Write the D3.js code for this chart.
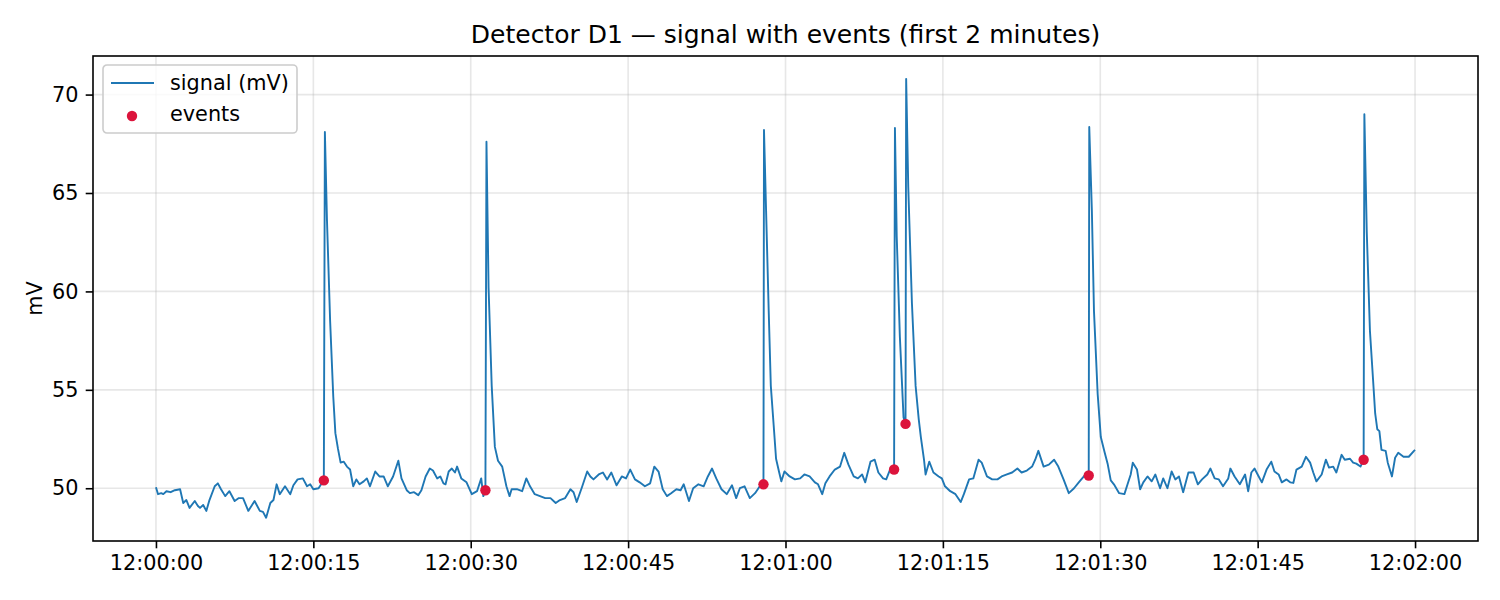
<!DOCTYPE html>
<html>
<head>
<meta charset="utf-8">
<script src="https://cdn.jsdelivr.net/npm/d3@7"></script>
<style>
  body { margin: 0; background: #fff; }
  svg text { font-family: "DejaVu Sans", sans-serif; }
</style>
</head>
<body>
<div id="chart"></div>
<script>
// seconds after 12:00:00
const times = [
  0.0, 0.2, 0.5, 0.7, 1.0, 1.4, 1.8, 2.3, 2.6, 2.9, 3.2, 3.7, 4.0, 4.2, 4.5, 4.8, 5.1, 5.6, 5.9, 6.2,
  6.6, 7.0, 7.5, 7.9, 8.3, 8.8, 9.1, 9.4, 9.9, 10.2, 10.5, 10.9, 11.2, 11.5, 11.8, 12.3, 12.8, 13.1, 13.5, 14.0,
  14.4, 14.7, 15.0, 15.5, 15.8, 16.0, 16.1, 16.3, 16.6, 16.9, 17.1, 17.35, 17.6, 17.9, 18.2, 18.5, 18.8, 19.1, 19.4, 19.8,
  20.1, 20.4, 20.9, 21.3, 21.7, 22.1, 22.6, 23.1, 23.4, 23.9, 24.2, 24.6, 25.0, 25.3, 25.7, 26.1, 26.4, 26.8, 27.1, 27.4,
  27.6, 27.9, 28.2, 28.5, 28.7, 29.1, 29.6, 30.1, 30.6, 31.0, 31.2, 31.4, 31.5, 31.7, 32.0, 32.3, 32.6, 33.0, 33.4, 33.7,
  33.9, 34.4, 34.9, 35.3, 35.65, 36.1, 36.6, 37.1, 37.6, 38.1, 38.5, 39.0, 39.5, 39.8, 40.1, 40.6, 41.1, 41.4, 41.7, 42.2,
  42.6, 43.0, 43.4, 43.9, 44.4, 44.8, 45.2, 45.65, 46.1, 46.6, 47.1, 47.5, 47.9, 48.3, 48.7, 49.1, 49.6, 50.0, 50.3, 50.8,
  51.2, 51.7, 52.2, 52.6, 53.0, 53.4, 53.9, 54.4, 54.9, 55.3, 55.65, 56.1, 56.6, 57.1, 57.55, 57.9, 57.95, 58.15, 58.4, 58.6,
  58.9, 59.1, 59.4, 59.6, 59.9, 60.4, 60.9, 61.4, 61.8, 62.3, 62.8, 63.1, 63.5, 63.8, 64.2, 64.7, 65.2, 65.6, 66.0, 66.5,
  66.9, 67.3, 67.6, 68.1, 68.5, 68.85, 69.3, 69.6, 70.0, 70.35, 70.43, 70.6, 70.9, 71.25, 71.44, 71.5, 71.7, 72.05, 72.4, 72.7,
  72.9, 73.2, 73.35, 73.7, 74.1, 74.6, 74.9, 75.2, 75.7, 76.2, 76.7, 77.0, 77.5, 77.9, 78.4, 78.7, 79.2, 79.7, 80.2, 80.6,
  81.1, 81.6, 82.1, 82.5, 83.0, 83.5, 83.8, 84.1, 84.6, 85.1, 85.6, 86.0, 86.5, 87.0, 87.5, 87.95, 88.6, 88.9, 88.95, 89.2,
  89.4, 89.75, 90.05, 90.4, 90.7, 91.0, 91.3, 91.8, 92.3, 92.6, 92.9, 93.1, 93.5, 93.8, 94.1, 94.5, 94.9, 95.25, 95.7, 96.0,
  96.4, 96.8, 97.15, 97.5, 97.9, 98.4, 98.9, 99.3, 99.7, 100.2, 100.5, 100.9, 101.3, 101.7, 102.2, 102.4, 102.8, 103.3, 103.8, 104.1,
  104.4, 104.7, 105.1, 105.4, 105.85, 106.3, 106.6, 107.0, 107.3, 107.75, 108.1, 108.4, 108.7, 109.2, 109.6, 110.0, 110.3, 110.6, 111.1, 111.5,
  111.8, 112.2, 112.5, 113.0, 113.3, 113.8, 114.1, 114.4, 114.8, 115.1, 115.17, 115.4, 115.7, 116.0, 116.2, 116.4, 116.6, 116.8, 117.2, 117.4,
  117.8, 118.1, 118.4, 118.9, 119.4, 119.9, 120.0
];

const signal = [
  50.05, 49.7, 49.75, 49.7, 49.85, 49.8, 49.9, 49.95, 49.25, 49.4, 49.0, 49.35, 49.1, 49.0, 49.15, 48.85, 49.4, 50.1, 50.25, 49.95,
  49.6, 49.85, 49.35, 49.5, 49.5, 48.85, 49.1, 49.35, 48.85, 48.8, 48.5, 49.25, 49.4, 50.2, 49.7, 50.1, 49.7, 50.15, 50.45, 50.5,
  50.1, 50.2, 49.95, 50.0, 50.25, 50.4, 68.1, 63.6, 58.5, 54.65, 52.8, 52.0, 51.3, 51.35, 51.1, 50.95, 50.1, 50.45, 50.2, 50.35,
  50.5, 50.1, 50.85, 50.6, 50.6, 50.1, 50.6, 51.4, 50.5, 49.9, 49.75, 49.8, 49.65, 49.9, 50.6, 51.0, 50.9, 50.5, 50.6, 50.25,
  50.2, 50.85, 51.0, 50.8, 51.1, 50.5, 50.3, 49.7, 49.85, 50.5, 49.6, 49.9, 67.6, 60.2, 55.2, 52.1, 51.4, 51.1, 50.1, 49.6,
  49.95, 49.95, 49.85, 50.5, 50.1, 49.7, 49.6, 49.5, 49.5, 49.25, 49.4, 49.5, 49.95, 49.8, 49.3, 50.05, 50.85, 50.6, 50.45, 50.7,
  50.8, 50.45, 50.8, 50.15, 50.6, 50.5, 50.95, 50.45, 50.3, 50.1, 50.25, 51.1, 50.85, 49.95, 49.6, 49.75, 49.95, 49.9, 50.2, 49.35,
  50.0, 50.2, 50.1, 50.6, 51.0, 50.5, 49.95, 49.7, 50.15, 49.5, 50.0, 50.1, 49.5, 49.75, 50.1, 50.2, 68.2, 64.1, 59.0, 55.2,
  53.0, 51.5, 50.8, 50.35, 50.85, 50.6, 50.45, 50.5, 50.7, 50.6, 50.3, 50.2, 49.7, 50.25, 50.6, 50.95, 51.1, 51.8, 51.2, 50.6,
  50.5, 50.7, 50.3, 51.35, 51.45, 50.8, 50.5, 50.45, 51.0, 50.95, 68.3, 62.8, 57.7, 53.6, 53.27, 70.8, 65.3, 59.4, 55.2, 53.5,
  52.6, 51.45, 50.7, 51.35, 50.8, 50.6, 50.5, 50.1, 49.85, 49.7, 49.3, 49.7, 50.45, 50.5, 51.45, 51.3, 50.6, 50.45, 50.45, 50.6,
  50.7, 50.8, 51.0, 50.8, 50.9, 51.1, 51.45, 51.9, 51.1, 51.2, 51.45, 51.1, 50.45, 49.75, 50.0, 50.3, 50.7, 50.65, 68.35, 64.1,
  59.0, 54.8, 52.6, 51.85, 51.25, 50.4, 50.2, 49.75, 49.7, 50.2, 50.7, 51.3, 50.95, 49.95, 50.3, 50.6, 50.35, 50.7, 50.0, 50.5,
  50.0, 50.85, 50.45, 50.6, 49.8, 50.8, 50.8, 50.2, 50.45, 50.7, 51.0, 50.5, 50.45, 50.1, 50.5, 51.0, 50.6, 50.2, 50.7, 49.85,
  50.8, 51.0, 50.6, 50.3, 50.95, 51.35, 50.85, 50.7, 50.3, 50.45, 50.3, 50.27, 50.95, 51.1, 51.6, 51.3, 50.8, 50.35, 50.7, 51.45,
  51.05, 51.1, 50.8, 51.7, 51.45, 51.5, 51.3, 51.25, 51.1, 51.45, 69.0, 63.0, 58.0, 55.5, 53.8, 53.0, 52.9, 51.95, 51.9, 51.3,
  50.6, 51.55, 51.8, 51.6, 51.6, 51.9, 51.95
];

const eventTimes = [16.0, 31.4, 57.9, 70.35, 71.44, 88.9, 115.1];
const eventValues = [50.4, 49.9, 50.2, 50.95, 53.27, 50.65, 51.45];

const yTicks = [50, 55, 60, 65, 70];

const W = 1500, H = 600;
const margin = { top: 56, right: 22, bottom: 59, left: 93 };
const width = W - margin.left - margin.right;
const height = H - margin.top - margin.bottom;
const fs = 20.8;

const t0 = new Date(2024, 0, 1, 12, 0, 0);
const toDate = s => new Date(t0.getTime() + s * 1000);

const svg = d3.select("#chart")
    .append("svg")
    .attr("width", W)
    .attr("height", H);

const g = svg.append("g")
    .attr("transform", `translate(${margin.left},${margin.top})`);

const x = d3.scaleTime()
    .domain([toDate(-6), toDate(126)])
    .range([0, width]);

const y = d3.scaleLinear()
    .domain([47.32, 71.96])
    .range([height, 0]);

const xTickVals = d3.range(0, 121, 15).map(toDate);

// grid
g.append("g")
    .selectAll("line")
    .data(xTickVals)
    .enter()
    .append("line")
    .attr("x1", d => x(d)).attr("x2", d => x(d))
    .attr("y1", 0).attr("y2", height)
    .attr("stroke", "#b0b0b0").attr("stroke-opacity", 0.3).attr("stroke-width", 1.6);

g.append("g")
    .selectAll("line")
    .data(yTicks)
    .enter()
    .append("line")
    .attr("x1", 0).attr("x2", width)
    .attr("y1", d => y(d)).attr("y2", d => y(d))
    .attr("stroke", "#b0b0b0").attr("stroke-opacity", 0.3).attr("stroke-width", 1.6);

// signal line
const pts = times.map((t, i) => ({ t: toDate(t), v: signal[i] }));
const line = d3.line()
    .x(d => x(d.t))
    .y(d => y(d.v));

g.append("path")
    .datum(pts)
    .attr("fill", "none")
    .attr("stroke", "#1f77b4")
    .attr("stroke-width", 1.9)
    .attr("stroke-linejoin", "round")
    .attr("d", line);

// events
g.selectAll("circle.ev")
    .data(eventTimes.map((t, i) => ({ t: toDate(t), v: eventValues[i] })))
    .enter()
    .append("circle")
    .attr("class", "ev")
    .attr("cx", d => x(d.t))
    .attr("cy", d => y(d.v))
    .attr("r", 5.2)
    .attr("fill", "#dc143c");

// axes
const xAxis = g.append("g")
    .attr("transform", `translate(0,${height})`)
    .call(d3.axisBottom(x).tickValues(xTickVals).tickFormat(d3.timeFormat("%H:%M:%S")).tickSize(7.3).tickPadding(7.3));

const yAxis = g.append("g")
    .call(d3.axisLeft(y).tickValues(yTicks).tickSize(7.3).tickPadding(7.3));

[xAxis, yAxis].forEach(a => {
    a.select(".domain").remove();
    a.selectAll("line").attr("stroke", "#000").attr("stroke-width", 1.6);
    a.selectAll("text").attr("font-size", fs + "px").attr("fill", "#000")
        .attr("font-family", "DejaVu Sans, sans-serif");
});

// frame
g.append("rect")
    .attr("x", 0).attr("y", 0)
    .attr("width", width).attr("height", height)
    .attr("fill", "none")
    .attr("stroke", "#000")
    .attr("stroke-width", 1.6);

// title
svg.append("text")
    .attr("x", margin.left + width / 2)
    .attr("y", 43)
    .attr("text-anchor", "middle")
    .attr("font-size", "25px")
    .text("Detector D1 — signal with events (first 2 minutes)");

// y label
svg.append("text")
    .attr("transform", `translate(42,${margin.top + height / 2}) rotate(-90)`)
    .attr("text-anchor", "middle")
    .attr("font-size", fs + "px")
    .text("mV");

// legend
const lg = g.append("g").attr("transform", "translate(10,9)");
lg.append("rect")
    .attr("width", 194).attr("height", 68)
    .attr("rx", 4)
    .attr("fill", "#fff").attr("fill-opacity", 0.8)
    .attr("stroke", "#cccccc").attr("stroke-width", 1.6);
lg.append("line")
    .attr("x1", 8).attr("x2", 51)
    .attr("y1", 18).attr("y2", 18)
    .attr("stroke", "#1f77b4").attr("stroke-width", 1.9);
lg.append("text")
    .attr("x", 67).attr("y", 25)
    .attr("font-size", fs + "px")
    .text("signal (mV)");
lg.append("circle")
    .attr("cx", 29).attr("cy", 51)
    .attr("r", 5.2)
    .attr("fill", "#dc143c");
lg.append("text")
    .attr("x", 67).attr("y", 56)
    .attr("font-size", fs + "px")
    .text("events");
</script>
</body>
</html>
